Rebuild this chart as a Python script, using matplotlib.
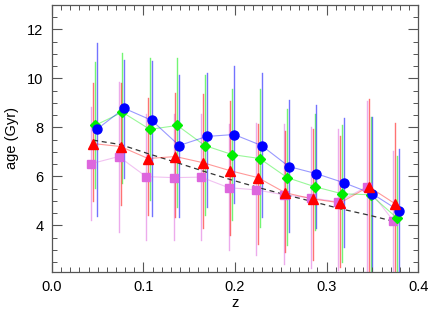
import matplotlib
matplotlib.use("Agg")
import matplotlib.pyplot as plt
from matplotlib.ticker import MultipleLocator, FormatStrFormatter

plt.rcParams['font.family'] = ['Liberation Sans', 'DejaVu Sans']

# redshift bins (pink series position; other series are shifted slightly)
z_bins = [0.043, 0.073, 0.103, 0.133, 0.163, 0.193, 0.223, 0.253, 0.283, 0.313, 0.344, 0.373]

age_pink = [6.52, 6.81, 5.99, 5.95, 5.97, 5.54, 5.45, 5.25, 5.12, 4.96, 5.58, 4.18]
hi_pink = [8.85, 9.84, 8.53, 8.53, 8.53, 8.12, 8.16, 8.12, 8.01, 7.92, 9.08, 7.03]
lo_pink = [4.22, 3.74, 3.40, 3.40, 3.40, 2.99, 2.78, 2.44, 2.25, 2.17, 1.50, 1.50]

age_red = [7.34, 7.22, 6.73, 6.81, 6.56, 6.23, 5.95, 5.33, 5.08, 4.92, 5.58, 4.88]
hi_red = [9.81, 9.80, 9.22, 9.42, 9.35, 9.08, 8.12, 7.85, 7.92, 7.64, 9.18, 8.19]
lo_red = [5.01, 4.84, 4.43, 4.36, 3.88, 3.60, 3.26, 2.92, 2.58, 2.30, 1.50, 1.50]

age_green = [8.08, 8.62, 7.92, 8.08, 7.26, 6.89, 6.73, 5.95, 5.58, 5.29, 5.25, 4.30]
hi_green = [10.66, 11.04, 10.82, 10.85, 10.14, 9.56, 9.56, 8.74, 8.53, 8.08, 8.44, 6.82]
lo_green = [5.52, 5.73, 5.04, 4.77, 4.43, 4.22, 3.95, 3.20, 3.81, 2.51, 1.50, 1.50]

age_blue = [7.92, 8.78, 8.29, 7.26, 7.63, 7.71, 7.26, 6.40, 6.11, 5.74, 5.29, 4.60]
hi_blue = [11.44, 10.77, 10.72, 10.15, 10.22, 10.52, 10.22, 9.11, 8.90, 8.40, 8.44, 7.12]
lo_blue = [4.40, 5.93, 4.40, 4.36, 4.77, 4.90, 4.36, 3.74, 3.90, 3.13, 1.50, 1.50]

age_model = [7.48, 7.30, 6.93, 6.58, 6.22, 5.87, 5.55, 5.25, 4.97, 4.68, 4.42, 4.15]

series = [
    (age_pink, hi_pink, lo_pink, '#DD66DD', 's', 5.5, 0.000),
    (age_green, hi_green, lo_green, '#00EE00', 'D', 5.5, 0.004),
    (age_blue, hi_blue, lo_blue, '#0000FF', 'o', 6.5, 0.006),
    (age_red, hi_red, lo_red, '#FF0000', '^', 6.5, 0.002),
]

fig = plt.figure(figsize=(4.36, 3.09), dpi=100)
ax = fig.add_axes([0.119, 0.12, 0.84, 0.864])

# error bars first
for age, hi, lo, color, marker, ms, dz in series:
    x = [z + dz for z in z_bins]
    for xi, h, l in zip(x, hi, lo):
        ax.plot([xi, xi], [l, h], color=color, lw=1.0, alpha=0.55, zorder=1)

x_model = [z + 0.002 for z in z_bins]
ax.plot(x_model, age_model, color='#333333', ls=(0, (4, 3)), lw=0.9, zorder=2)

for age, hi, lo, color, marker, ms, dz in series:
    x = [z + dz for z in z_bins]
    ax.plot(x, age, color=color, lw=0.8, alpha=0.4, zorder=3)
    ax.plot(x, age, ls='none', marker=marker, ms=ms, color=color,
            markeredgecolor=color, zorder=4)

ax.set_xlim(0.0, 0.4)
ax.set_ylim(2.1, 13.0)
ax.xaxis.set_major_locator(MultipleLocator(0.1))
ax.xaxis.set_minor_locator(MultipleLocator(0.01))
ax.xaxis.set_major_formatter(FormatStrFormatter('%.1f'))
ax.yaxis.set_major_locator(MultipleLocator(2))
ax.yaxis.set_minor_locator(MultipleLocator(0.5))
ax.yaxis.set_major_formatter(FormatStrFormatter('%d'))

ax.tick_params(which='both', direction='in', top=True, right=True,
               color='#555555', labelsize=10.5)
ax.tick_params(which='major', length=7, width=0.8, pad=6)
ax.tick_params(which='minor', length=3.5, width=0.7)
for s in ax.spines.values():
    s.set_color('#555555')
    s.set_linewidth(0.9)

ax.set_xlabel('z', fontsize=10.5, labelpad=1)
ax.set_ylabel('age (Gyr)', fontsize=10.5, labelpad=6)

fig.savefig('out.png', dpi=100)
